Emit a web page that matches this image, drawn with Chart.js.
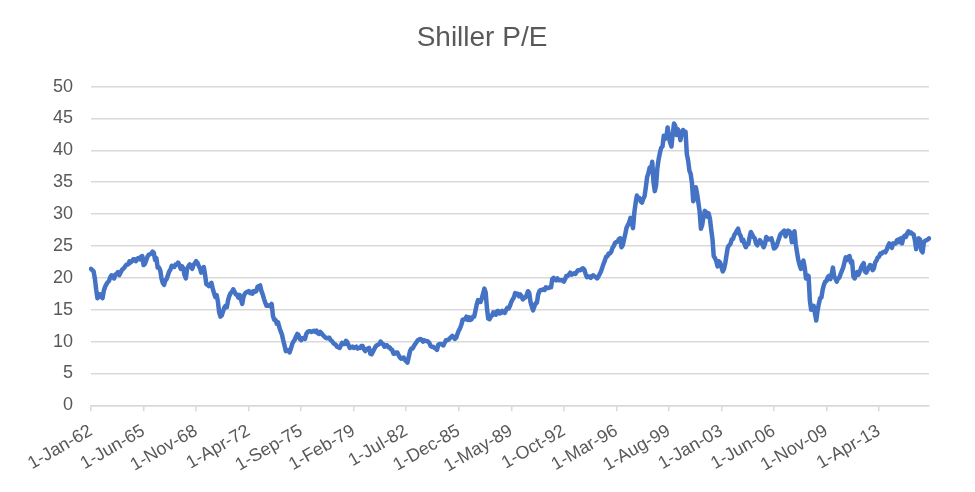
<!DOCTYPE html>
<html>
<head>
<meta charset="utf-8">
<script src="https://cdn.jsdelivr.net/npm/chart.js@4.4.1/dist/chart.umd.min.js"></script>
<style>
  html, body { margin: 0; padding: 0; background: #ffffff; }
  #wrap { width: 975px; height: 492px; position: relative; }
</style>
</head>
<body>
<div id="wrap"><canvas id="c"></canvas></div>
<script>
// Monthly Shiller P/E (CAPE)
const startYear = 1962;
const monthNames = ['Jan','Feb','Mar','Apr','May','Jun','Jul','Aug','Sep','Oct','Nov','Dec'];
const tickEvery = 41; // months between labelled ticks
const tickLabels = ['1-Jan-62','1-Jun-65','1-Nov-68','1-Apr-72','1-Sep-75','1-Feb-79','1-Jul-82','1-Dec-85','1-May-89','1-Oct-92','1-Mar-96','1-Aug-99','1-Jan-03','1-Jun-06','1-Nov-09','1-Apr-13'];

const pe1960s = [
  21.4, 21.2, 21.0, 19.9, 18.2, 16.8, 17.0, 17.4, 17.1, 16.8, 18.0, 18.6,
  19.0, 19.3, 19.5, 20.1, 20.4, 20.3, 19.9, 20.5, 20.6, 20.9, 20.4, 20.8,
  21.2, 21.4, 21.6, 21.9, 22.1, 22.1, 22.6, 22.4, 22.6, 22.9, 22.9, 22.6,
  23.0, 23.1, 22.9, 23.3, 23.4, 22.0, 22.2, 22.7, 23.3, 23.6, 23.7, 23.8,
  24.1, 23.9, 22.8, 23.1, 21.6, 21.6, 21.2, 19.9, 19.2, 18.9, 19.6, 19.8,
  20.4, 21.0, 21.3, 21.9, 21.8, 21.7, 22.1, 22.1, 22.4, 22.0, 21.4, 21.8,
  21.5, 20.4, 19.9, 21.4, 21.8, 22.1, 21.9, 21.4, 22.0, 22.3, 22.6, 22.4,
  21.9, 21.5, 20.8, 21.3, 21.7, 20.5, 19.0, 18.9, 18.7, 19.0, 19.2, 18.3
];
const pe1970s = [
  17.6, 17.0, 17.3, 16.3, 14.6, 13.9, 14.1, 14.7, 15.3, 15.6, 15.4, 16.5,
  17.2, 17.6, 17.8, 18.2, 17.8, 17.4, 17.4, 16.9, 17.3, 16.6, 15.9, 17.0,
  17.5, 17.7, 17.8, 17.9, 17.6, 17.8, 17.5, 17.9, 17.8, 17.9, 18.6, 18.7,
  18.8, 17.9, 17.4, 16.7, 16.1, 15.6, 15.6, 15.7, 15.5, 15.9, 14.0, 13.4,
  13.4, 12.8, 13.0, 12.2, 11.6, 11.1, 10.2, 9.4, 8.5, 8.7, 8.6, 8.3,
  8.9, 9.6, 10.0, 10.3, 10.8, 11.2, 11.0, 10.4, 10.2, 10.5, 10.6, 10.4,
  11.2, 11.5, 11.6, 11.6, 11.5, 11.6, 11.7, 11.5, 11.7, 11.3, 11.2, 11.5,
  11.3, 11.0, 10.8, 10.6, 10.5, 10.6, 10.6, 10.2, 10.1, 9.8, 9.6, 9.5,
  9.2, 9.1, 9.0, 9.4, 9.8, 9.6, 9.6, 10.1, 9.9, 9.4, 9.0, 9.1,
  9.2, 9.0, 9.1, 9.2, 8.9, 9.0, 9.0, 9.3, 9.3, 8.8, 8.5, 8.8
];
const pe1980s = [
  8.9, 9.0, 8.1, 8.0, 8.4, 8.8, 9.2, 9.4, 9.5, 9.6, 10.0, 9.7,
  9.6, 9.2, 9.4, 9.4, 9.1, 9.1, 8.8, 8.7, 8.1, 8.1, 8.3, 8.3,
  7.9, 7.5, 7.3, 7.4, 7.5, 7.1, 6.9, 6.7, 7.6, 8.5, 8.9, 8.9,
  9.3, 9.6, 9.9, 10.2, 10.3, 10.4, 10.3, 10.0, 10.2, 10.1, 10.1, 10.0,
  9.8, 9.3, 9.2, 9.2, 9.0, 8.9, 8.7, 9.5, 9.6, 9.6, 9.5, 9.4,
  9.8, 10.2, 10.2, 10.3, 10.5, 10.7, 10.9, 10.7, 10.4, 10.6, 11.2, 11.7,
  12.1, 12.6, 13.4, 13.5, 13.5, 13.9, 13.4, 13.8, 13.4, 13.5, 13.9, 13.9,
  14.8, 15.8, 16.5, 16.2, 16.2, 16.8, 17.5, 18.3, 17.7, 15.2, 13.6, 13.5,
  13.9, 14.1, 14.6, 14.3, 14.2, 14.8, 14.8, 14.4, 14.5, 14.8, 14.6, 14.5,
  15.0, 15.3, 15.2, 15.6, 16.2, 16.6, 16.9, 17.6, 17.5, 17.5, 17.1, 17.4
];
const pe1990s = [
  17.1, 16.6, 16.9, 16.9, 17.3, 17.9, 17.6, 16.2, 15.5, 14.9, 15.5, 16.0,
  16.1, 17.4, 17.9, 18.1, 18.1, 18.2, 18.1, 18.5, 18.4, 18.4, 18.5, 18.5,
  19.8, 20.0, 19.7, 19.6, 19.9, 19.6, 19.6, 19.6, 19.6, 19.4, 19.8, 20.3,
  20.3, 20.5, 20.8, 20.5, 20.6, 20.7, 20.6, 20.9, 21.2, 21.2, 21.2, 21.4,
  21.5, 21.3, 20.6, 20.1, 20.2, 20.2, 20.0, 20.3, 20.4, 20.2, 20.1, 19.9,
  20.2, 20.6, 21.0, 21.6, 22.2, 22.7, 23.3, 23.4, 23.8, 23.8, 24.1, 24.7,
  25.0, 25.5, 25.6, 25.7, 26.1, 26.2, 24.8, 25.1, 26.0, 26.9, 27.9, 28.3,
  28.7, 29.4, 28.6, 27.8, 30.2, 31.7, 32.9, 32.4, 32.5, 32.0, 31.8, 32.4,
  32.8, 34.2, 35.8, 36.4, 37.3, 37.0, 38.2, 35.0, 33.6, 34.5, 37.2, 38.6,
  39.6, 40.4, 40.6, 42.3, 41.8, 42.0, 43.6, 42.0, 41.2, 40.6, 42.6, 44.2
];
const pe2000s = [
  43.8, 42.4, 43.3, 42.8, 41.6, 42.6, 43.2, 42.7, 42.9, 39.4, 38.4, 36.8,
  36.3, 34.9, 32.0, 32.6, 34.2, 33.2, 31.8, 30.4, 27.7, 28.3, 29.6, 30.5,
  30.3, 29.6, 30.1, 29.3, 27.6, 26.1, 23.4, 23.1, 22.6, 21.8, 22.6, 22.4,
  21.7, 21.0, 21.4, 22.3, 23.6, 24.8, 25.1, 25.3, 26.0, 26.1, 26.7, 27.0,
  27.4, 27.7, 26.9, 26.6, 25.8, 26.0, 25.3, 24.8, 25.2, 25.3, 26.4, 27.2,
  26.8, 26.4, 26.2, 25.4, 25.1, 25.5, 25.9, 25.6, 25.2, 24.8, 25.3, 26.4,
  26.2, 26.0, 26.1, 26.2, 25.5, 24.6, 24.7, 25.0, 25.6, 26.2, 26.8, 27.0,
  27.2, 27.4, 26.5, 27.0, 27.4, 27.3, 27.0, 25.6, 26.4, 27.3, 25.3, 24.0,
  22.8, 22.0, 21.4, 22.3, 22.7, 21.6, 19.9, 20.4, 20.3, 16.5, 15.0, 15.2,
  15.6, 14.4, 13.3, 14.8, 15.9, 16.8, 16.9, 18.1, 18.9, 19.4, 19.5, 20.1
];
const pe2010s = [
  20.3, 19.8, 20.5, 21.6, 20.2, 19.9, 19.4, 19.9, 20.0, 20.6, 21.1, 21.6,
  22.4, 23.2, 22.8, 23.3, 23.4, 22.4, 22.6, 20.2, 19.9, 20.4, 20.9, 20.5,
  21.0, 21.6, 22.0, 22.3, 21.0, 20.8, 21.2, 21.6, 22.0, 21.9, 21.2, 21.5,
  22.4, 22.7, 23.2, 23.3, 23.8, 23.8, 24.0, 24.1, 24.0, 24.4, 25.0, 25.4,
  25.0, 24.7, 25.4, 25.3, 25.4, 25.9, 26.0, 25.6, 26.2, 25.4, 26.4, 26.6,
  26.4, 27.0, 27.3, 27.0, 27.1, 26.9, 26.8, 25.9, 24.5, 25.6, 26.2, 26.0,
  24.3, 24.0, 25.6, 25.8, 25.9, 26.0, 26.2
];

const shillerPE = [].concat(pe1960s, pe1970s, pe1980s, pe1990s, pe2000s, pe2010s);
const months = shillerPE.map((v, i) => {
  const y = (startYear + Math.floor(i / 12)) % 100;
  return '1-' + monthNames[i % 12] + '-' + String(y).padStart(2, '0');
});

const FONT = "'Liberation Sans', Arial, Helvetica, sans-serif";
const GREY = '#595959';
const GRID = '#d9d9d9';

new Chart(document.getElementById('c'), {
  type: 'line',
  data: {
    labels: months,
    datasets: [{
      label: 'Shiller P/E',
      data: shillerPE,
      borderColor: '#4472C4',
      backgroundColor: '#4472C4',
      borderWidth: 4.5,
      pointRadius: 0,
      pointHoverRadius: 0,
      tension: 0,
      fill: false,
      borderJoinStyle: 'round',
      borderCapStyle: 'round'
    }]
  },
  options: {
    responsive: true,
    maintainAspectRatio: false,
    animation: false,
    events: [],
    layout: { padding: { left: 35, right: 46, top: 0, bottom: 6 } },
    plugins: {
      legend: { display: false },
      tooltip: { enabled: false },
      title: {
        display: true,
        text: 'Shiller P/E',
        color: GREY,
        font: { family: FONT, size: 28, weight: 'normal' },
        padding: { top: 21, bottom: 32 }
      }
    },
    scales: {
      x: {
        type: 'category',
        afterBuildTicks: (scale) => {
          scale.ticks = scale.ticks.filter(t => t.value % tickEvery === 0);
        },
        ticks: {
          autoSkip: false,
          maxRotation: 30,
          minRotation: 30,
          color: GREY,
          padding: 9,
          font: { family: FONT, size: 18 },
          callback: function (val) {
            const k = Math.round(val / tickEvery);
            return tickLabels[k] !== undefined ? tickLabels[k] : this.getLabelForValue(val);
          }
        },
        grid: {
          display: true,
          drawOnChartArea: false,
          drawTicks: true,
          tickLength: 6,
          color: GRID,
          lineWidth: 1.5
        },
        border: { display: true, color: GRID, width: 1.5 }
      },
      y: {
        min: 0,
        max: 50,
        ticks: {
          stepSize: 5,
          color: GREY,
          padding: 18,
          font: { family: FONT, size: 18 }
        },
        grid: { color: GRID, lineWidth: 1.5, drawTicks: false },
        border: { display: false }
      }
    }
  }
});
</script>
</body>
</html>
